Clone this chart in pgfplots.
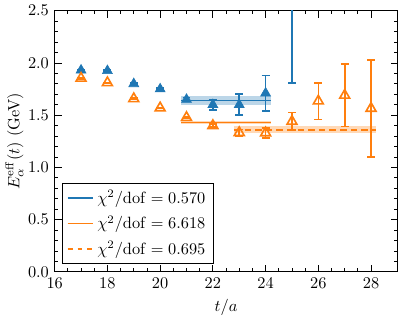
\documentclass[border=0pt]{standalone}
\usepackage{pgfplots}
\pgfplotsset{compat=1.18}
\definecolor{tabblue}{HTML}{1F77B4}
\definecolor{taborange}{HTML}{FF7F0E}
\begin{document}
\begin{tikzpicture}
\begin{axis}[
  width=210pt, height=160pt, scale only axis,
  xmin=16, xmax=29, ymin=0, ymax=2.5,
  xtick={16,18,...,28}, ytick={0,0.5,...,2.5},
  minor x tick num=3, minor y tick num=4,
  tick align=inside, tick pos=both,
  major tick length=4.2pt, minor tick length=2.2pt,
  every tick/.style={black, line width=0.5pt},
  axis line style={line width=0.7pt},
  yticklabel style={/pgf/number format/fixed, /pgf/number format/fixed zerofill, /pgf/number format/precision=1},
  xlabel={$t/a$}, ylabel={$E_\alpha^{\mathrm{eff}}(t)$ (GeV)},
  ylabel style={yshift=-4pt},
  legend style={at={(0.02,0.03)}, anchor=south west, draw=black, line width=0.7pt, row sep=2pt, inner xsep=3pt, inner ysep=2pt},
  legend cell align=left,
  legend image code/.code={\draw[#1] (0cm,0cm) -- (0.55cm,0cm);},
  error bars/error bar style={line width=1pt},
  error bars/error mark options={rotate=90, mark size=2.4pt, line width=1pt},
]
% fit bands
\addplot[forget plot, draw=none, fill=tabblue!30] coordinates {(20.8,1.595) (24.2,1.595) (24.2,1.686) (20.8,1.686)} -- cycle;
\addplot[forget plot, tabblue, line width=1pt] coordinates {(20.8,1.64) (24.2,1.64)};
\addplot[forget plot, draw=none, fill=taborange!30] coordinates {(20.8,1.418) (24.2,1.418) (24.2,1.442) (20.8,1.442)} -- cycle;
\addplot[forget plot, taborange, line width=1pt] coordinates {(20.8,1.43) (24.2,1.43)};
\addplot[forget plot, draw=none, fill=taborange!30] coordinates {(22.8,1.325) (28.2,1.325) (28.2,1.395) (22.8,1.395)} -- cycle;
\addplot[forget plot, taborange, line width=1pt, dash pattern=on 4pt off 2.5pt] coordinates {(22.8,1.36) (28.2,1.36)};
% blue data
\addplot[forget plot, only marks, tabblue, mark=triangle*, mark size=3.5pt,
  error bars/.cd, y dir=both, y explicit] coordinates {
  (17,1.93) +- (0,0.005)
  (18,1.925) +- (0,0.005)
  (19,1.80) +- (0,0.006)
  (20,1.75) +- (0,0.008)
  (21,1.65) +- (0,0.02)
  (22,1.60) +- (0,0.05)
  (23,1.60) +- (0,0.10)
  (24,1.71) +- (0,0.17)
  (25,2.70) +- (0,0.89)
};
% orange data
\addplot[forget plot, only marks, taborange, mark=triangle, mark size=3.5pt, mark options={fill=white, line width=1pt},
  error bars/.cd, y dir=both, y explicit] coordinates {
  (17,1.853) +- (0,0.004)
  (18,1.81) +- (0,0.004)
  (19,1.657) +- (0,0.005)
  (20,1.569) +- (0,0.005)
  (21,1.477) +- (0,0.008)
  (22,1.40) +- (0,0.015)
  (23,1.333) +- (0,0.03)
  (24,1.33) +- (0,0.05)
  (25,1.44) +- (0,0.085)
  (26,1.635) +- (0,0.175)
  (27,1.69) +- (0,0.30)
  (28,1.565) +- (0,0.465)
};
\addlegendimage{tabblue, line width=0.9pt}
\addlegendentry{$\chi^2/\mathrm{dof}=0.570$}
\addlegendimage{taborange, line width=0.9pt}
\addlegendentry{$\chi^2/\mathrm{dof}=6.618$}
\addlegendimage{taborange, line width=0.9pt, dash pattern=on 3pt off 3pt}
\addlegendentry{$\chi^2/\mathrm{dof}=0.695$}
\end{axis}
\end{tikzpicture}
\end{document}
